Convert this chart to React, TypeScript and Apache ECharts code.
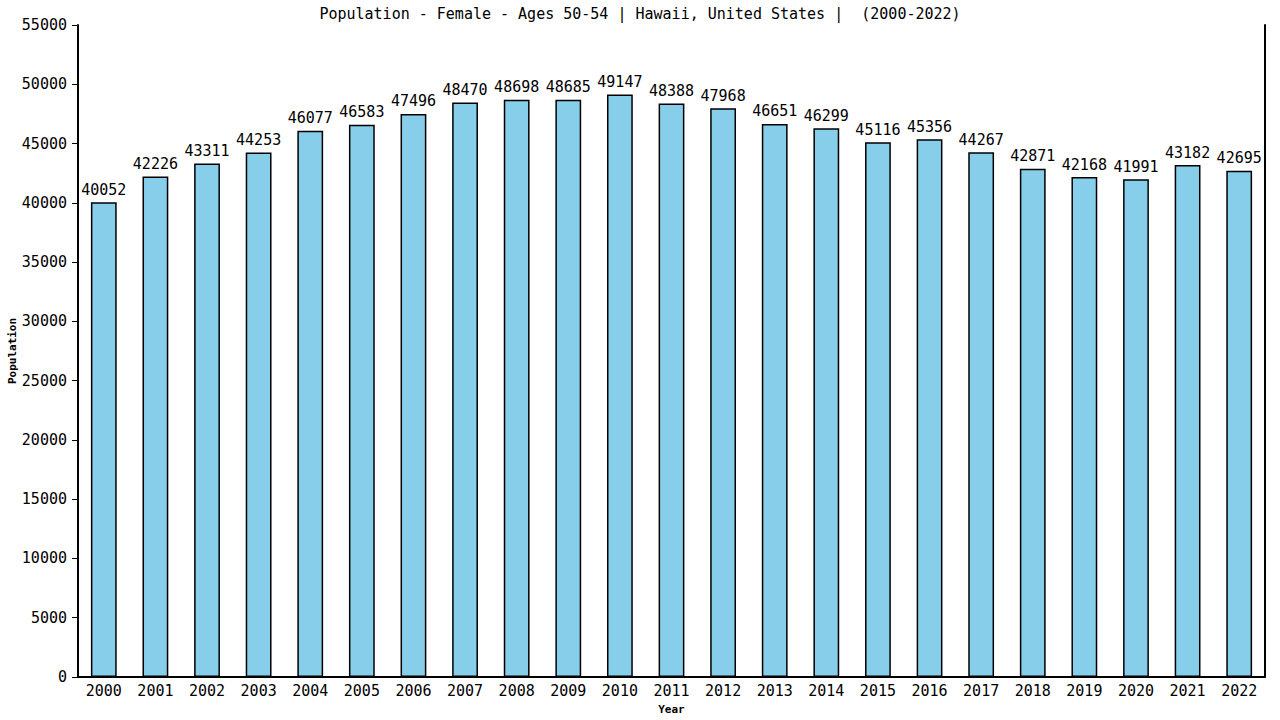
import { useEffect, useRef } from 'react';
import * as echarts from 'echarts';

const years = [
  '2000', '2001', '2002', '2003', '2004', '2005', '2006', '2007', '2008', '2009', '2010', '2011',
  '2012', '2013', '2014', '2015', '2016', '2017', '2018', '2019', '2020', '2021', '2022'
];
const population = [
  40052, 42226, 43311, 44253, 46077, 46583, 47496, 48470, 48698, 48685, 49147, 48388,
  47968, 46651, 46299, 45116, 45356, 44267, 42871, 42168, 41991, 43182, 42695
];
const titleText = 'Population - Female - Ages 50-54 | Hawaii, United States |  (2000-2022)';

const FONT = '"DejaVu Sans Mono", monospace';

export default function App() {
  const containerRef = useRef<HTMLDivElement>(null);

  useEffect(() => {
    if (!containerRef.current) return;
    const chart = echarts.init(containerRef.current, null, { renderer: 'svg' });

    const option: echarts.EChartsOption = {
      animation: false,
      backgroundColor: '#ffffff',
      title: {
        text: titleText,
        left: 'center',
        top: 1,
        textStyle: { fontFamily: FONT, fontSize: 15, fontWeight: 'normal', color: '#000' }
      },
      grid: { left: 78, right: 15, top: 25, bottom: 43, outerBoundsMode: 'none' } as any,
      xAxis: {
        type: 'category',
        data: years,
        name: 'Year',
        nameLocation: 'middle',
        nameGap: 27,
        nameTextStyle: { fontFamily: FONT, fontSize: 11, fontWeight: 'bold', color: '#000' },
        axisLine: { lineStyle: { color: '#000', width: 2 } },
        axisTick: { show: false },
        axisLabel: { fontFamily: FONT, fontSize: 15, color: '#000', margin: 6, interval: 0 }
      },
      yAxis: [
        {
          type: 'value',
          min: 0,
          max: 55000,
          interval: 5000,
          name: 'Population',
          nameLocation: 'middle',
          nameGap: 60,
          nameMoveOverlap: false,
          nameTextStyle: { fontFamily: FONT, fontSize: 11, fontWeight: 'bold', color: '#000' },
          axisLine: { show: true, lineStyle: { color: '#000', width: 2 } },
          axisTick: { show: true, length: 6, lineStyle: { color: '#000', width: 1 } },
          splitLine: { show: false },
          axisLabel: {
            fontFamily: FONT,
            fontSize: 15,
            color: '#000',
            margin: 11,
            formatter: (v: number) => String(v)
          }
        } as any,
        {
          type: 'value',
          min: 0,
          max: 55000,
          interval: 5000,
          position: 'right',
          axisLine: { show: true, lineStyle: { color: '#000', width: 2 } },
          axisTick: { show: false },
          axisLabel: { show: false },
          splitLine: { show: false }
        }
      ],
      series: [
        {
          type: 'bar',
          data: population,
          barWidth: '50%',
          itemStyle: { color: '#87ceeb', borderColor: '#000', borderWidth: 1.5 },
          label: {
            show: true,
            position: 'top',
            distance: 5,
            fontFamily: FONT,
            fontSize: 15,
            color: '#000'
          }
        }
      ]
    };

    chart.setOption(option);
    return () => chart.dispose();
  }, []);

  return (
    <div
      ref={containerRef}
      style={{ position: 'absolute', left: 0, top: 0, width: 1280, height: 720 }}
    />
  );
}
